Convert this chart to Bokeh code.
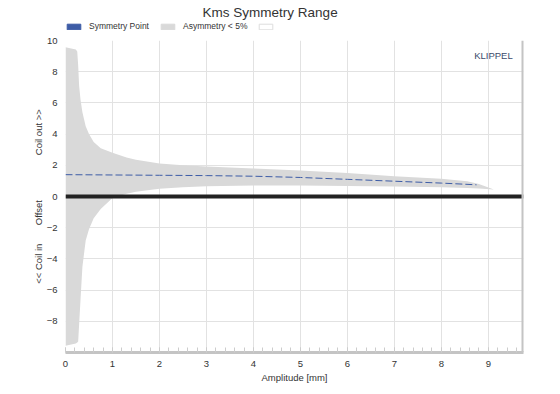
from bokeh.plotting import figure
from bokeh.layouts import column
from bokeh.models import (Legend, LegendItem, Label, Span, FixedTicker, SingleIntervalTicker,
                          Range1d, ColumnDataSource)
from bokeh.embed import file_html
from bokeh.resources import INLINE

# ---- data ----
amp = [0, 0.22, 0.25, 0.27, 0.29, 0.32, 0.36, 0.43, 0.5, 0.6, 0.75, 1.0, 1.3, 1.5,
       2.0, 2.5, 3.0, 4.0, 5.0, 6.0, 7.0, 8.0, 8.55, 8.8, 9.12]
upper = [9.57, 9.42, 9.3, 8.4, 7.1, 6.2, 5.4, 4.5, 4.0, 3.5, 3.1, 2.8, 2.5, 2.35,
         2.12, 2.0, 1.92, 1.8, 1.67, 1.5, 1.3, 1.13, 0.98, 0.8, 0.45]
lower = [-9.57, -9.42, -9.36, -9.3, -8.2, -6.6, -4.5, -2.82, -2.1, -1.4, -0.8, -0.1, 0.18, 0.3,
         0.5, 0.6, 0.66, 0.7, 0.7, 0.68, 0.64, 0.6, 0.55, 0.52, 0.45]

sym_amp = [0, 1, 2, 3, 4, 5, 6, 7, 8, 8.75]
sym_offset = [1.4, 1.38, 1.36, 1.34, 1.3, 1.22, 1.1, 0.98, 0.86, 0.75]

y_ticks = [-8, -6, -4, -2, 0, 2, 4, 6, 8, 10]
X_MIN, X_MAX = 0, 9.75
Y_MIN, Y_MAX = -10, 10

FONT = "Liberation Sans"
TXT = "#333333"
BLUE = "#3d5ca6"
BAND = "#d9d9d9"
SHADOW = "#c4c4c4"

xr = Range1d(X_MIN, X_MAX)
yr = Range1d(Y_MIN, Y_MAX)
sym_src = ColumnDataSource(dict(x=sym_amp, y=sym_offset))

# ---------------- header: title + legend ----------------
h = figure(width=544, height=34, x_range=xr, y_range=yr, output_backend="svg",
           toolbar_location=None, x_axis_location=None, y_axis_location=None,
           min_border=0, min_border_left=58)
h.outline_line_color = None
h.grid.visible = False
h.title.text = "Kms Symmetry Range" + "\u00a0" * 13
h.title.text_font = FONT
h.title.text_font_size = "13.5px"
h.title.text_font_style = "normal"
h.title.text_color = TXT
h.title.align = "center"
h.title.standoff = 4

# zero-size swatch renderers (only their legend swatches show)
sw1 = h.quad(left="x", right="x", top="y", bottom="y", source=sym_src,
             fill_color=BLUE, line_color=BLUE)
sw2 = h.quad(left="x", right="x", top="y", bottom="y", source=sym_src,
             fill_color=BAND, line_color=BAND)
sw3 = h.quad(left="x", right="x", top="y", bottom="y", source=sym_src,
             fill_color="white", line_color="#dddddd")
legend = Legend(items=[LegendItem(label="Symmetry Point", renderers=[sw1]),
                       LegendItem(label="Asymmetry < 5%", renderers=[sw2]),
                       LegendItem(label=" ", renderers=[sw3])],
                orientation="horizontal", location="top_left",
                glyph_width=17, glyph_height=7, label_height=10, label_standoff=7,
                spacing=10, padding=0, margin=0,
                label_text_font=FONT, label_text_font_size="8.5px", label_text_color=TXT,
                border_line_color=None, background_fill_alpha=0)
h.add_layout(legend, "center")

# ---------------- main chart ----------------
p = figure(width=544, height=352, x_range=xr, y_range=yr, title=None,
           output_backend="svg", toolbar_location=None,
           min_border_left=65, min_border_right=21, min_border_top=6, min_border_bottom=34)
p.outline_line_color = None

# band
src = ColumnDataSource(dict(x=amp, up=upper, lo=lower))
p.varea(x="x", y1="lo", y2="up", source=src, fill_color=BAND)

# zero line
p.add_layout(Span(location=0, dimension="width", line_color="#222222", line_width=4))

# right shadow bar
p.add_layout(Span(location=X_MAX, dimension="height", line_color=SHADOW, line_width=4))

# symmetry point line
p.line("x", "y", source=sym_src, line_color=BLUE, line_width=1, line_dash="7 3")

# axes
xt = SingleIntervalTicker(interval=1, num_minor_ticks=5)
p.xaxis.ticker = xt
p.xgrid.ticker = xt
p.xaxis.axis_label = "Amplitude [mm]"
p.xaxis.axis_label_text_font = FONT
p.xaxis.axis_label_text_font_size = "9.5px"
p.xaxis.axis_label_text_font_style = "normal"
p.xaxis.axis_label_text_color = TXT
p.xaxis.axis_label_standoff = 2
p.xaxis.major_label_text_font = FONT
p.xaxis.major_label_text_font_size = "9.5px"
p.xaxis.major_label_text_color = TXT
p.xaxis.major_label_standoff = 8
p.xaxis.axis_line_color = SHADOW
p.xaxis.axis_line_width = 3
p.xaxis.major_tick_in = 5
p.xaxis.major_tick_out = 0
p.xaxis.minor_tick_in = 5
p.xaxis.minor_tick_out = 0
p.xaxis.major_tick_line_color = "#cccccc"
p.xaxis.minor_tick_line_color = "#cccccc"

yt = FixedTicker(ticks=y_ticks)
p.yaxis.ticker = yt
p.ygrid.ticker = yt
p.yaxis.axis_label = ("<< Coil in" + "\u00a0" * 7 + "Offset" + "\u00a0" * 17 + "Coil out >>")
p.yaxis.axis_label_text_font = FONT
p.yaxis.axis_label_text_font_size = "9.5px"
p.yaxis.axis_label_text_font_style = "normal"
p.yaxis.axis_label_text_color = TXT
p.yaxis.axis_label_standoff = 0
p.yaxis.major_label_text_font = FONT
p.yaxis.major_label_text_font_size = "9.5px"
p.yaxis.major_label_text_color = TXT
p.yaxis.major_label_standoff = 8
p.yaxis.major_tick_out = 0
p.yaxis.major_tick_in = 0
p.yaxis.minor_tick_out = 0
p.yaxis.minor_tick_in = 0
p.yaxis.axis_line_color = None
p.yaxis.major_tick_line_color = None
p.yaxis.minor_tick_line_color = None

p.xgrid.grid_line_color = "#e2e2e2"
p.ygrid.grid_line_color = "#e2e2e2"

# KLIPPEL mark
p.add_layout(Label(x=9.52, y=9.04, text="KLIPPEL", text_align="right", text_baseline="middle",
                   text_font=FONT, text_font_size="9.5px", text_color="#3b4a6b"))

layout = column(h, p, spacing=0)
open("out.html", "w").write(file_html(layout, INLINE))
